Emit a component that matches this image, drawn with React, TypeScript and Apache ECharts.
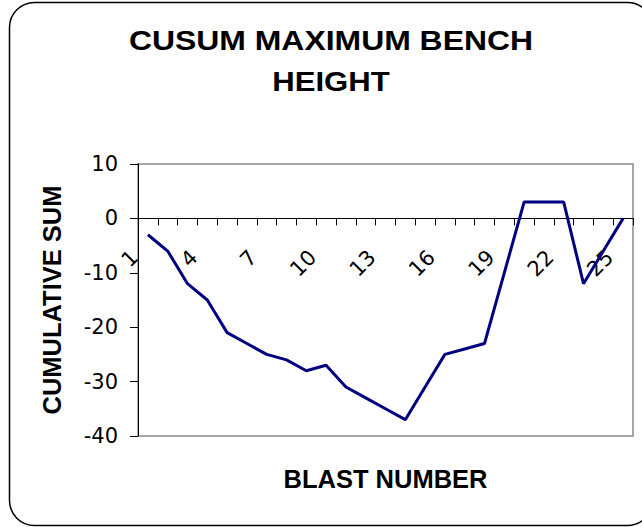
import React, { useEffect, useRef } from "react";
import * as echarts from "echarts";

const categories = [
  "1", "2", "3", "4", "5", "6", "7", "8", "9", "10", "11", "12", "13",
  "14", "15", "16", "17", "18", "19", "20", "21", "22", "23", "24", "25",
];

const cusumValues = [
  -3, -6, -12, -15, -21, -23, -25, -26, -28, -27, -31, -33, -35, -37, -31,
  -25, -24, -23, -10, 3, 3, 3, -12, -6, 0,
];

const titleLines = ["CUSUM MAXIMUM BENCH", "HEIGHT"];
const xAxisTitle = "BLAST NUMBER";
const yAxisTitle = "CUMULATIVE SUM";
const yMin = -40;
const yMax = 10;
const yStep = 10;

const GRID_TOP = 164;
const GRID_BOTTOM = 91;
const CHART_H = 527;

export default function App() {
  const ref = useRef<HTMLDivElement>(null);

  useEffect(() => {
    if (!ref.current) return;
    const chart = echarts.init(ref.current, null, { renderer: "svg" });
    const titleFont = {
      fontFamily: "Liberation Sans",
      fontWeight: "bold",
      fontSize: 28,
      fill: "#000",
      align: "center",
      verticalAlign: "middle",
      textAlign: "center",
      textVerticalAlign: "middle",
    };
    // distance from the grid bottom up to the zero line, so the category axis crosses at 0
    const plotH = CHART_H - GRID_TOP - GRID_BOTTOM;
    const zeroOffset = (plotH * (0 - yMin)) / (yMax - yMin);
    chart.setOption({
      animation: false,
      backgroundColor: "#fff",
      graphic: [
        {
          type: "rect",
          z: -1,
          silent: true,
          shape: { x: 9.5, y: 2.5, width: 643, height: 523, r: 25 },
          style: { fill: "none", stroke: "#000", lineWidth: 1.5 },
        },
        {
          type: "text",
          x: 331,
          y: 40,
          scaleX: 1.14,
          style: { ...titleFont, text: titleLines[0] },
        },
        {
          type: "text",
          x: 331,
          y: 81,
          scaleX: 1.11,
          style: { ...titleFont, text: titleLines[1] },
        },
      ],
      grid: {
        left: 138,
        right: 9,
        top: GRID_TOP,
        bottom: GRID_BOTTOM,
        show: true,
        containLabel: false,
        outerBoundsMode: "none",
        borderColor: "#a6a6a6",
        borderWidth: 2,
        backgroundColor: "transparent",
      },
      xAxis: {
        type: "category",
        data: categories,
        boundaryGap: true,
        offset: -zeroOffset,
        name: xAxisTitle,
        nameLocation: "middle",
        nameGap: 248,
        nameMoveOverlap: false,
        nameTextStyle: {
          fontFamily: "Liberation Sans",
          fontWeight: "bold",
          fontSize: 25.5,
          color: "#000",
        },
        axisLine: { onZero: false, lineStyle: { color: "#000", width: 1 } },
        axisTick: {
          show: true,
          interval: 0,
          length: 7,
          lineStyle: { color: "#000" },
        },
        axisLabel: {
          interval: 2,
          rotate: 45,
          margin: 22,
          padding: [0, 19, 0, 0],
          fontFamily: "DejaVu Sans",
          fontSize: 21,
          color: "#000",
        },
        splitLine: { show: false },
      },
      yAxis: {
        type: "value",
        min: yMin,
        max: yMax,
        interval: yStep,
        name: yAxisTitle,
        nameLocation: "middle",
        nameGap: 73,
        nameMoveOverlap: false,
        nameTextStyle: {
          fontFamily: "Liberation Sans",
          fontWeight: "bold",
          fontSize: 25.5,
          color: "#000",
        },
        axisLine: { show: true, lineStyle: { color: "#000", width: 1 } },
        axisTick: { show: true, length: 8, lineStyle: { color: "#000" } },
        axisLabel: {
          margin: 20,
          showMinLabel: true,
          showMaxLabel: true,
          fontFamily: "DejaVu Sans",
          fontSize: 21,
          color: "#000",
        },
        splitLine: { show: false },
      },
      series: [
        {
          type: "line",
          data: cusumValues,
          symbol: "none",
          showSymbol: false,
          lineStyle: { color: "#000080", width: 3 },
          itemStyle: { color: "#000080" },
        },
      ],
    });
    return () => chart.dispose();
  }, []);

  return (
    <div
      ref={ref}
      style={{ position: "absolute", left: 0, top: 0, width: 642, height: 527 }}
    />
  );
}
